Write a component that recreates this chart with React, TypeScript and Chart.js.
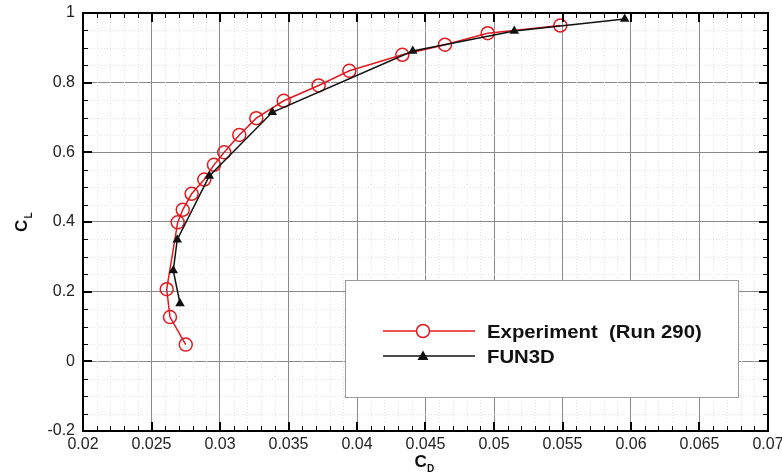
import React, { useEffect, useRef } from "react";
import { Chart, registerables } from "chart.js";

Chart.register(...registerables);

// ---- data ----
const expCD = [0.0275, 0.02635, 0.02611, 0.02691, 0.02728, 0.02793, 0.02885, 0.02956, 0.03031, 0.03141, 0.03265, 0.03465, 0.0372, 0.03944, 0.04331, 0.04642, 0.04954, 0.05484];
const expCL = [0.048, 0.127, 0.207, 0.399, 0.435, 0.481, 0.522, 0.564, 0.6, 0.65, 0.698, 0.748, 0.792, 0.834, 0.88, 0.909, 0.942, 0.964];
const cfdCD = [0.02708, 0.02659, 0.02688, 0.02922, 0.03382, 0.04407, 0.05148, 0.05954];
const cfdCL = [0.166, 0.261, 0.349, 0.532, 0.715, 0.891, 0.948, 0.983];
const seriesNames = ["Experiment  (Run 290)", "FUN3D"];

const xTickValues = [0.02, 0.025, 0.03, 0.035, 0.04, 0.045, 0.05, 0.055, 0.06, 0.065, 0.07];
const xTickLabels = ["0.02", "0.025", "0.03", "0.035", "0.04", "0.045", "0.05", "0.055", "0.06", "0.065", "0.07"];
const yTickValues = [-0.2, 0, 0.2, 0.4, 0.6, 0.8, 1];
const yTickLabels = ["-0.2", "0", "0.2", "0.4", "0.6", "0.8", "1"];
const xMinorStep = 0.001;
const yMinorStep = 0.05;

const FONT = "'Liberation Sans', Arial, Helvetica, sans-serif";
const RED = "#e01a1f";
const BLACK = "#111111";

const framePlugin = {
  id: "framePlugin",
  beforeDatasetsDraw(chart: any) {
    const { ctx, chartArea: a, scales } = chart;
    const xs = scales.x, ys = scales.y;
    ctx.save();
    ctx.strokeStyle = "#e2e2e2";
    ctx.lineWidth = 1;
    ctx.setLineDash([1, 2]);
    for (let i = 0; i <= Math.round((xs.max - xs.min) / xMinorStep); i++) {
      if (i % 5 === 0) continue;
      const px = Math.round(xs.getPixelForValue(xs.min + i * xMinorStep)) + 0.5;
      ctx.beginPath(); ctx.moveTo(px, a.top); ctx.lineTo(px, a.bottom); ctx.stroke();
    }
    for (let i = 0; i <= Math.round((ys.max - ys.min) / yMinorStep); i++) {
      if (i % 4 === 0) continue;
      const py = Math.round(ys.getPixelForValue(ys.min + i * yMinorStep)) + 0.5;
      ctx.beginPath(); ctx.moveTo(a.left, py); ctx.lineTo(a.right, py); ctx.stroke();
    }
    ctx.restore();
  },
  afterDatasetsDraw(chart: any) {
    const { ctx, chartArea: a, scales } = chart;
    const xs = scales.x, ys = scales.y;
    ctx.save();
    ctx.strokeStyle = "#000";
    for (let i = 0; i <= Math.round((xs.max - xs.min) / xMinorStep); i++) {
      const major = i % 5 === 0;
      const len = major ? 9 : 5;
      ctx.lineWidth = major ? 2 : 1;
      const px = Math.round(xs.getPixelForValue(xs.min + i * xMinorStep)) + (major ? 0 : 0.5);
      ctx.beginPath(); ctx.moveTo(px, a.bottom); ctx.lineTo(px, a.bottom - len); ctx.stroke();
      ctx.beginPath(); ctx.moveTo(px, a.top); ctx.lineTo(px, a.top + len); ctx.stroke();
    }
    for (let i = 0; i <= Math.round((ys.max - ys.min) / yMinorStep); i++) {
      const major = i % 4 === 0;
      const len = major ? 9 : 5;
      ctx.lineWidth = major ? 2 : 1;
      const py = Math.round(ys.getPixelForValue(ys.min + i * yMinorStep)) + (major ? 0 : 0.5);
      ctx.beginPath(); ctx.moveTo(a.left, py); ctx.lineTo(a.left + len, py); ctx.stroke();
      ctx.beginPath(); ctx.moveTo(a.right, py); ctx.lineTo(a.right - len, py); ctx.stroke();
    }
    ctx.lineWidth = 2;
    ctx.strokeRect(a.left, a.top, a.right - a.left, a.bottom - a.top);
    ctx.restore();
  },
  afterDraw(chart: any) {
    const { ctx, chartArea: a } = chart;
    ctx.save();
    // legend box
    const bx = 345, by = 280, bw = 393, bh = 117;
    ctx.fillStyle = "#fff";
    ctx.fillRect(bx, by, bw, bh);
    ctx.strokeStyle = "#9a9a9a";
    ctx.lineWidth = 1;
    ctx.strokeRect(bx + 0.5, by + 0.5, bw, bh);
    const rows = [
      { y: 331, color: RED, marker: "circle" },
      { y: 356, color: BLACK, marker: "tri" },
    ];
    rows.forEach((r, i) => {
      ctx.strokeStyle = r.color;
      ctx.lineWidth = 1.5;
      ctx.beginPath(); ctx.moveTo(383, r.y); ctx.lineTo(475, r.y); ctx.stroke();
      if (r.marker === "circle") {
        ctx.fillStyle = "#fff";
        ctx.beginPath(); ctx.arc(423, r.y, 6.5, 0, Math.PI * 2); ctx.fill(); ctx.stroke();
      } else {
        ctx.fillStyle = r.color;
        ctx.beginPath(); ctx.moveTo(423, r.y - 5.5); ctx.lineTo(428.5, r.y + 4); ctx.lineTo(417.5, r.y + 4); ctx.closePath(); ctx.fill();
      }
      ctx.save();
      ctx.fillStyle = "#111";
      ctx.font = `bold 18px ${FONT}`;
      ctx.textBaseline = "alphabetic";
      ctx.textAlign = "left";
      ctx.translate(487, r.y + 6.5);
      ctx.scale(1.13, 1);
      ctx.fillText(seriesNames[i], 0, 0);
      ctx.restore();
    });
    // axis titles
    ctx.fillStyle = "#111";
    ctx.textBaseline = "alphabetic";
    ctx.textAlign = "left";
    const cx = (a.left + a.right) / 2;
    ctx.font = `bold 17px ${FONT}`;
    ctx.fillText("C", cx - 11, 467);
    ctx.font = `bold 10px ${FONT}`;
    ctx.fillText("D", cx + 1.5, 471.5);
    ctx.translate(27, (a.top + a.bottom) / 2);
    ctx.rotate(-Math.PI / 2);
    ctx.font = `bold 17px ${FONT}`;
    ctx.fillText("C", -10, 0);
    ctx.font = `bold 10px ${FONT}`;
    ctx.fillText("L", 3.5, 5);
    ctx.restore();
  },
};

export default function App() {
  const ref = useRef<HTMLCanvasElement>(null);
  useEffect(() => {
    document.body.style.margin = "0";
    const canvas = ref.current!;
    const chart = new Chart(canvas, {
      type: "scatter",
      data: {
        datasets: [
          {
            label: seriesNames[0],
            data: expCD.map((x, i) => ({ x, y: expCL[i] })),
            showLine: true,
            borderColor: RED,
            borderWidth: 1.5,
            backgroundColor: "rgba(0,0,0,0)",
            pointStyle: "circle",
            pointRadius: 6.5,
            pointBorderWidth: 1.5,
            pointBorderColor: RED,
            pointBackgroundColor: "rgba(0,0,0,0)",
            order: 2,
          },
          {
            label: seriesNames[1],
            data: cfdCD.map((x, i) => ({ x, y: cfdCL[i] })),
            showLine: true,
            borderColor: BLACK,
            borderWidth: 1.5,
            backgroundColor: BLACK,
            pointStyle: "triangle",
            pointRadius: 5.5,
            pointBorderWidth: 0,
            pointBackgroundColor: BLACK,
            order: 1,
          },
        ],
      },
      options: {
        animation: false,
        responsive: false,
        events: [],
        layout: { padding: { top: 13, right: 14, left: 0, bottom: 0 } },
        plugins: { legend: { display: false }, tooltip: { enabled: false } },
        scales: {
          x: {
            type: "linear",
            min: 0.02,
            max: 0.07,
            afterBuildTicks: (s: any) => { s.ticks = xTickValues.map((v) => ({ value: v })); },
            afterFit: (s: any) => { s.height = 45; s.paddingLeft = 0; s.paddingRight = 0; },
            ticks: {
              callback: (_v: any, i: number) => xTickLabels[i],
              font: { size: 16, family: FONT },
              color: "#222",
              padding: 4,
              maxRotation: 0,
              autoSkip: false,
            },
            grid: { color: "#8a8a8a", lineWidth: 1, drawTicks: false },
            border: { display: false },
          },
          y: {
            type: "linear",
            min: -0.2,
            max: 1,
            afterBuildTicks: (s: any) => { s.ticks = yTickValues.map((v) => ({ value: v })); },
            afterFit: (s: any) => { s.width = 83; s.paddingTop = 0; s.paddingBottom = 0; },
            ticks: {
              callback: (_v: any, i: number) => yTickLabels[i],
              font: { size: 16, family: FONT },
              color: "#222",
              padding: 8,
              autoSkip: false,
            },
            grid: { color: "#8a8a8a", lineWidth: 1, drawTicks: false },
            border: { display: false },
          },
        },
      },
      plugins: [framePlugin],
    } as any);
    return () => chart.destroy();
  }, []);
  return <canvas ref={ref} width={782} height={476} style={{ display: "block" }} />;
}
